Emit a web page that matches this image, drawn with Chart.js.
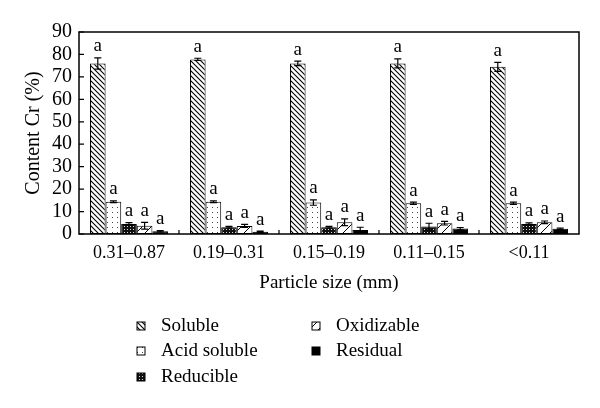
<!doctype html>
<html lang="en">
<head>
  <meta charset="utf-8">
  <title>Content Cr</title>
  <script src="https://cdn.jsdelivr.net/npm/chart.js@4.4.1/dist/chart.umd.min.js"></script>
  <style>
    body { margin: 0; background: #fff; }
    #wrap { width: 600px; height: 408px; }
  </style>
</head>
<body>
<div id="wrap"><canvas id="myChart" width="600" height="408"></canvas></div>
<script>
const sizes = ['0.31\u20130.87', '0.19\u20130.31', '0.15\u20130.19', '0.11\u20130.15', '<0.11'];
const fractions = ['Soluble', 'Acid soluble', 'Reducible', 'Oxidizable', 'Residual'];

const soluble     = [76.0, 77.8, 76.0, 76.0, 74.5];
const acidSoluble = [14.4, 14.4, 14.0, 13.7, 13.7];
const reducible   = [4.5, 3.0, 3.0, 3.3, 4.5];
const oxidizable  = [3.7, 3.6, 5.2, 4.8, 5.2];
const residual    = [1.2, 1.0, 1.8, 2.4, 2.3];

const solubleErr     = [2.5, 0.5, 1.0, 2.0, 2.0];
const acidSolubleErr = [0.4, 0.4, 1.2, 0.5, 0.5];
const reducibleErr   = [0.6, 0.4, 0.4, 1.5, 0.5];
const oxidizableErr  = [1.5, 0.7, 1.5, 0.8, 0.6];
const residualErr    = [0.3, 0.3, 1.2, 0.5, 0.3];

const letters = ['a', 'a', 'a', 'a', 'a'];
const yTicks = [0, 10, 20, 30, 40, 50, 60, 70, 80, 90];

const serif = '"Liberation Serif", "DejaVu Serif", serif';

// small tiles for the hatch fills
function tile(w, h, draw) {
  const c = document.createElement('canvas');
  c.width = w; c.height = h;
  const g = c.getContext('2d');
  draw(g, w, h);
  return document.getElementById('myChart').getContext('2d').createPattern(c, 'repeat');
}

const hatchPat = tile(5, 5, (g, w, h) => {
  g.fillStyle = '#fff'; g.fillRect(0, 0, w, h);
  g.strokeStyle = '#000'; g.lineWidth = 1.1;
  g.beginPath();
  g.moveTo(-1, -1); g.lineTo(w + 1, h + 1);
  g.moveTo(-1 - w, -1); g.lineTo(1, h + 1);
  g.moveTo(w - 1, -1); g.lineTo(2 * w + 1, h + 1);
  g.stroke();
});
const dotPat = tile(5, 5, (g, w, h) => {
  g.fillStyle = '#fff'; g.fillRect(0, 0, w, h);
  g.fillStyle = '#444'; g.fillRect(2, 2, 1, 1);
});
const gridPat = tile(3, 3, (g, w, h) => {
  g.fillStyle = '#111'; g.fillRect(0, 0, w, h);
  g.fillStyle = '#ddd'; g.fillRect(1, 1, 1, 1);
});
const slashPat = tile(9, 9, (g, w, h) => {
  g.fillStyle = '#fff'; g.fillRect(0, 0, w, h);
  g.strokeStyle = '#000'; g.lineWidth = 1;
  g.beginPath();
  g.moveTo(0, h); g.lineTo(w, 0);
  g.stroke();
});

const fills = [hatchPat, dotPat, gridPat, slashPat, '#000'];
const values = [soluble, acidSoluble, reducible, oxidizable, residual];
const errors = [solubleErr, acidSolubleErr, reducibleErr, oxidizableErr, residualErr];

const frameAndMarks = {
  id: 'frameAndMarks',
  afterDatasetsDraw(chart) {
    const ctx = chart.ctx;
    const a = chart.chartArea;
    const y = chart.scales.y;
    ctx.save();
    // error bars and letters
    chart.data.datasets.forEach((ds, di) => {
      const meta = chart.getDatasetMeta(di);
      meta.data.forEach((bar, i) => {
        const v = ds.data[i];
        const e = errors[di][i];
        const top = y.getPixelForValue(v + e);
        const bot = y.getPixelForValue(v - e);
        ctx.strokeStyle = '#000';
        ctx.lineWidth = 1.2;
        ctx.beginPath();
        ctx.moveTo(bar.x, top); ctx.lineTo(bar.x, bot);
        ctx.moveTo(bar.x - 3.5, top); ctx.lineTo(bar.x + 3.5, top);
        ctx.moveTo(bar.x - 3.5, bot); ctx.lineTo(bar.x + 3.5, bot);
        ctx.stroke();
        ctx.fillStyle = '#000';
        ctx.font = '19px ' + serif;
        ctx.textAlign = 'center';
        ctx.textBaseline = 'bottom';
        ctx.fillText(letters[i], bar.x, top - 2);
      });
    });
    // frame
    ctx.strokeStyle = '#000';
    ctx.lineWidth = 1.5;
    ctx.strokeRect(a.left, a.top, a.right - a.left, a.bottom - a.top);
    // inward ticks
    ctx.lineWidth = 1.2;
    ctx.beginPath();
    yTicks.forEach(t => {
      const py = y.getPixelForValue(t);
      ctx.moveTo(a.left, py); ctx.lineTo(a.left + 5, py);
    });
    const step = (a.right - a.left) / sizes.length;
    for (let i = 1; i < sizes.length; i++) {
      const px = a.left + step * i;
      ctx.moveTo(px, a.bottom); ctx.lineTo(px, a.bottom - 4);
    }
    ctx.stroke();
    ctx.restore();
  },
  afterDraw(chart) {
    // legend, two columns
    const ctx = chart.ctx;
    ctx.save();
    const spots = [
      [137, 326], [137, 351], [137, 377],
      [312, 326], [312, 351]
    ];
    fractions.forEach((name, i) => {
      const [sx, sy] = spots[i];
      ctx.fillStyle = fills[i];
      ctx.fillRect(sx, sy - 4, 8, 8);
      ctx.strokeStyle = '#000';
      ctx.lineWidth = 1;
      ctx.strokeRect(sx, sy - 4, 8, 8);
      ctx.fillStyle = '#000';
      ctx.font = '19px ' + serif;
      ctx.textAlign = 'left';
      ctx.textBaseline = 'middle';
      ctx.fillText(name, sx + 24, sy);
    });
    ctx.restore();
  }
};

new Chart(document.getElementById('myChart'), {
  type: 'bar',
  data: {
    labels: sizes,
    datasets: fractions.map((name, i) => ({
      label: name,
      data: values[i],
      backgroundColor: fills[i],
      borderColor: '#000',
      borderWidth: 1,
      borderSkipped: false,
      categoryPercentage: 0.78,
      barPercentage: 1.0
    }))
  },
  options: {
    responsive: false,
    animation: false,
    layout: { padding: { left: 0, top: 32, right: 21, bottom: 114 } },
    plugins: {
      legend: { display: false },
      tooltip: { enabled: false }
    },
    scales: {
      x: {
        afterFit: s => { s.height = 60; },
        grid: { display: false, drawTicks: false },
        border: { display: false },
        ticks: { color: '#000', padding: 8, font: { family: serif, size: 18 } },
        title: {
          display: true, text: 'Particle size (mm)', color: '#000',
          font: { family: serif, size: 19 }, padding: { top: 4, bottom: 0 }
        }
      },
      y: {
        min: 0, max: 90,
        afterFit: s => { s.width = 79; },
        afterBuildTicks: s => { s.ticks = yTicks.map(v => ({ value: v })); },
        grid: { display: false, drawTicks: false },
        border: { display: false },
        ticks: { color: '#000', padding: 7, autoSkip: false, font: { family: serif, size: 20 } },
        title: {
          display: true, text: 'Content Cr (%)', color: '#000',
          font: { family: serif, size: 20 }, padding: { top: 22, bottom: 0 }
        }
      }
    }
  },
  plugins: [frameAndMarks]
});
</script>
</body>
</html>
